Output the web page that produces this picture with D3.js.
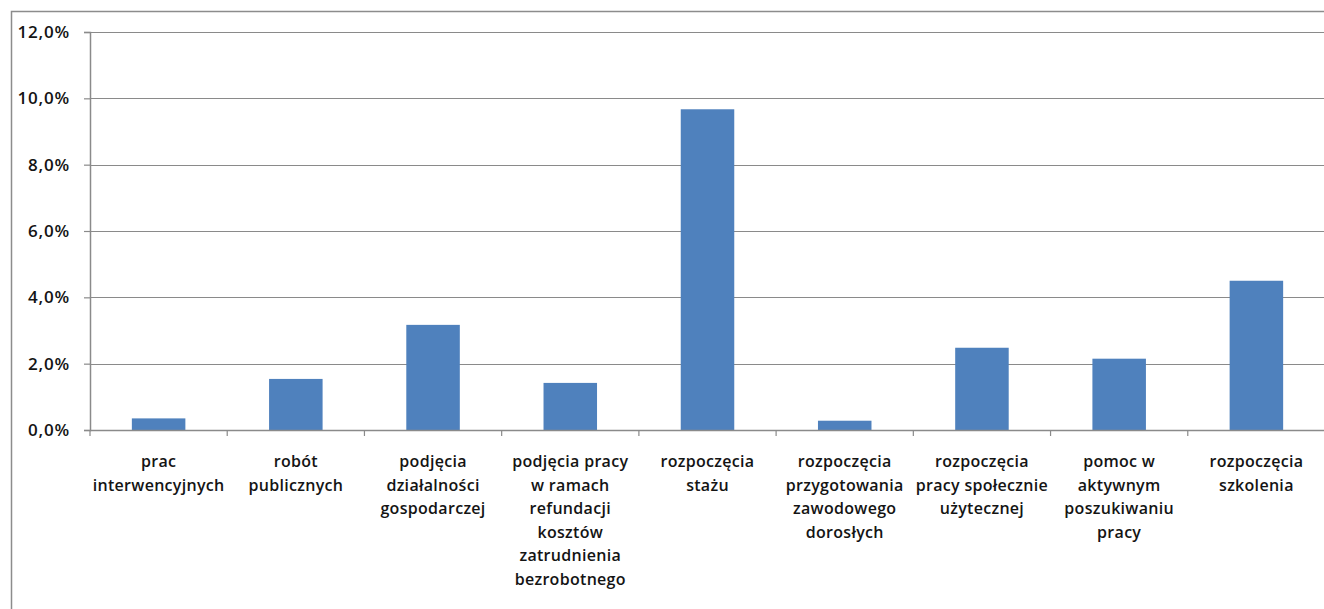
<!DOCTYPE html>
<html>
<head>
<meta charset="utf-8">
<script src="https://cdn.jsdelivr.net/npm/d3@7"></script>
<style>
  body { margin: 0; background: #fff; }
  svg { display: block; }
  text { font-family: "Open Sans", Lato, sans-serif; fill: #141414; }
</style>
</head>
<body>
<div id="chart"></div>
<script>
const categories = [
    ["prac", "interwencyjnych"],
    ["robót", "publicznych"],
    ["podjęcia", "działalności", "gospodarczej"],
    ["podjęcia pracy", "w ramach", "refundacji", "kosztów", "zatrudnienia", "bezrobotnego"],
    ["rozpoczęcia", "stażu"],
    ["rozpoczęcia", "przygotowania", "zawodowego", "dorosłych"],
    ["rozpoczęcia", "pracy społecznie", "użytecznej"],
    ["pomoc w", "aktywnym", "poszukiwaniu", "pracy"],
    ["rozpoczęcia", "szkolenia"]
];
const values = [0.35, 1.54, 3.17, 1.42, 9.67, 0.28, 2.48, 2.15, 4.50];
const yTicks = [0, 2, 4, 6, 8, 10, 12];

const width = 1324, height = 609;
const margin = {top: 32, right: -1, bottom: 179, left: 90};

const svg = d3.select("#chart")
    .append("svg")
    .attr("width", width)
    .attr("height", height);

// outer chart border
svg.append("rect")
    .attr("x", 11.5).attr("y", 11.5)
    .attr("width", 1340).attr("height", 640)
    .attr("fill", "none")
    .attr("stroke", "#8c8c8c")
    .attr("stroke-width", 1.5);

const g = svg.append("g")
    .attr("transform", `translate(${margin.left},${margin.top})`);

const innerW = width - margin.left - margin.right;
const innerH = height - margin.top - margin.bottom;
const idx = d3.range(categories.length);

let x = d3.scaleBand()
    .domain(idx)
    .range([0, innerW])
    .paddingInner(0.61)
    .paddingOuter(0.305);

let y = d3.scaleLinear()
    .domain([0, 12])
    .range([innerH, 0]);

// gridlines
g.append("g")
    .selectAll("line")
    .data(yTicks.slice(1))
    .enter()
    .append("line")
    .attr("x1", 0).attr("x2", innerW)
    .attr("y1", d => Math.round(y(d)) + 0.5)
    .attr("y2", d => Math.round(y(d)) + 0.5)
    .attr("stroke", "#8a8a8a")
    .attr("stroke-width", 1.2);

// y axis
let yAxis = g.append("g")
    .call(d3.axisLeft(y).tickValues(yTicks).tickSize(6).tickPadding(14)
        .tickFormat(d => d.toFixed(1).replace(".", ",") + "%"));
yAxis.select(".domain").attr("stroke", "#8a8a8a").attr("stroke-width", 1.5);
yAxis.selectAll(".tick line").attr("stroke", "#8a8a8a").attr("stroke-width", 1.2);
yAxis.selectAll(".tick text")
    .attr("fill", "#141414")
    .style("font-family", "'Open Sans', sans-serif")
    .style("font-size", "17px")
    .style("font-weight", "600")
    .style("letter-spacing", "0.8px");

// bars
g.selectAll("rect.bar")
    .data(values)
    .enter()
    .append("rect")
    .attr("class", "bar")
    .attr("fill", "#4f81bd")
    .attr("x", (d, i) => x(i))
    .attr("y", d => y(d))
    .attr("width", x.bandwidth())
    .attr("height", d => y(0) - y(d));

// x axis line and category boundary ticks
const step = x.step();
g.append("line")
    .attr("x1", 0).attr("x2", innerW)
    .attr("y1", innerH + 0.5).attr("y2", innerH + 0.5)
    .attr("stroke", "#8a8a8a")
    .attr("stroke-width", 1.5);

g.append("g")
    .selectAll("line")
    .data(d3.range(categories.length + 1))
    .enter()
    .append("line")
    .attr("x1", i => i * step).attr("x2", i => i * step)
    .attr("y1", innerH).attr("y2", innerH + 6)
    .attr("stroke", "#8a8a8a")
    .attr("stroke-width", 1.2);

// category labels
let labels = g.append("g")
    .selectAll("text")
    .data(categories)
    .enter()
    .append("text")
    .attr("x", (d, i) => x(i) + x.bandwidth() / 2)
    .attr("y", innerH + 37)
    .style("text-anchor", "middle")
    .style("font-size", "16px")
    .style("font-weight", "600")
    .style("letter-spacing", "0.3px");

labels.selectAll("tspan")
    .data(d => d)
    .enter()
    .append("tspan")
    .attr("x", function() { return this.parentNode.getAttribute("x"); })
    .attr("dy", (d, i) => i === 0 ? 0 : 23.5)
    .text(d => d);
</script>
</body>
</html>
